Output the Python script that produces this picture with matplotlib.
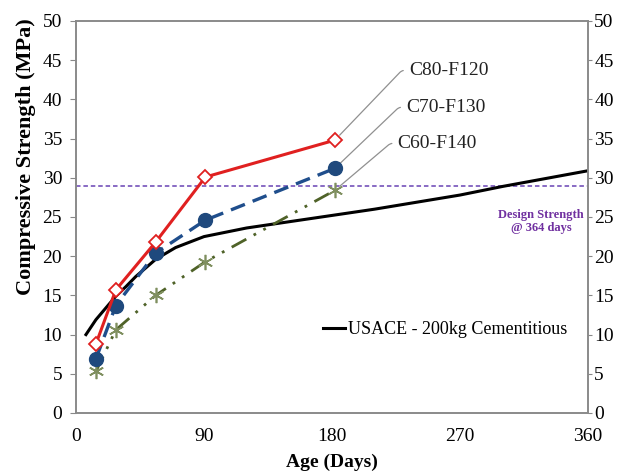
import numpy as np
import matplotlib
matplotlib.use("Agg")
import matplotlib.pyplot as plt

plt.rcParams['font.family'] = ['Liberation Serif', 'DejaVu Serif']

# test ages (days) and strengths (MPa)
ages = [14, 28, 56, 91, 182]
c80_f120 = [8.8, 15.7, 21.8, 30.1, 34.8]
c70_f130 = [6.9, 13.7, 20.4, 24.6, 31.2]
c60_f140 = [5.3, 10.6, 15.0, 19.3, 28.4]

# USACE reference curve
usace_days = [7, 14, 21, 28, 35, 42, 56, 70, 90, 120, 150, 180, 210, 240, 270, 300, 330, 360]
usace_mpa = [10.0, 11.9, 13.4, 14.9, 16.1, 17.4, 19.6, 21.1, 22.5, 23.6, 24.4, 25.2,
             26.0, 26.9, 27.8, 28.9, 29.9, 30.9]

design_strength = 29.0
x_ticks = [0, 90, 180, 270, 360]
y_ticks = [0, 5, 10, 15, 20, 25, 30, 35, 40, 45, 50]

fig = plt.figure(figsize=(6.25, 4.74), dpi=100)
ax = fig.add_axes([0.1216, 0.1287, 0.8192, 0.827])

ax.axhline(design_strength, color='#7F5FBF', lw=1.3, ls=(0, (2.5, 1.6)), zorder=1)

usace, = ax.plot(usace_days, usace_mpa, color='black', lw=2.2,
                 label='USACE - 200kg Cementitious', zorder=2)

ax.plot(ages, c60_f140, color='#4F6228', lw=2, ls=(0, (6, 3, 1, 3, 1, 3)),
        marker=(6, 2, 0), ms=11, mec='#7F8F5F', mew=1.2, zorder=3)
ax.plot(ages, c70_f130, color='#1F4E8C', lw=2.4, ls=(0, (4.5, 2.5)),
        marker='o', ms=10, mfc='#1F497D', mec='#1F497D', zorder=4)
ax.plot(ages, c80_f120, color='#E02020', lw=2.2,
        marker='D', ms=7.5, mfc='white', mec='#E02020', mew=1.3, zorder=5)

# leader labels
names = ['C80-F120', 'C70-F130', 'C60-F140']
series = [c80_f120, c70_f130, c60_f140]
label_pos = [(234, 43.7), (232, 39.0), (226, 34.4)]
for name, vals, (tx, ty) in zip(names, series, label_pos):
    ax.annotate(name, xy=(ages[-1], vals[-1]), xytext=(tx, ty),
                ha='left', va='center', fontsize=14, color='#222222',
                arrowprops=dict(arrowstyle='-', color='#909090', lw=0.9,
                                relpos=(0, 0.5), shrinkA=2, shrinkB=5,
                                connectionstyle='arc,angleA=180,armA=7,rad=3'))

ax.text(327, 24.4, 'Design Strength\n@ 364 days', ha='center', va='center',
        fontsize=9, fontweight='bold', color='#7030A0', linespacing=1.05)

ax.legend(handles=[usace], loc='center left', bbox_to_anchor=(0.483, 0.212),
          frameon=False, fontsize=13, handlelength=1.2, handletextpad=0.15,
          borderpad=0, borderaxespad=0)

ax.set_xlim(0, 360)
ax.set_ylim(0, 50)
ax.set_xticks(x_ticks)
ax.set_yticks(y_ticks)
ax.tick_params(axis='x', length=0, pad=11, labelsize=14)
ax.tick_params(axis='y', length=4, color='#888888', labelsize=14, pad=6)

# right-hand axis with the same scale
ax2 = ax.twinx()
ax2.set_ylim(0, 50)
ax2.set_yticks(y_ticks)
ax2.tick_params(axis='y', length=3, color='#888888', labelsize=14, pad=1.5)

for a in (ax, ax2):
    for sp in a.spines.values():
        sp.set_color('#8A8A8A')
        sp.set_linewidth(1.2)

ax.set_xlabel('Age (Days)', fontsize=14, fontweight='bold', labelpad=6)
ax.set_ylabel('Compressive Strength (MPa)', fontsize=16, fontweight='bold')
ax.yaxis.set_label_coords(-0.078, 0.653)

fig.savefig('out.png', dpi=100)
